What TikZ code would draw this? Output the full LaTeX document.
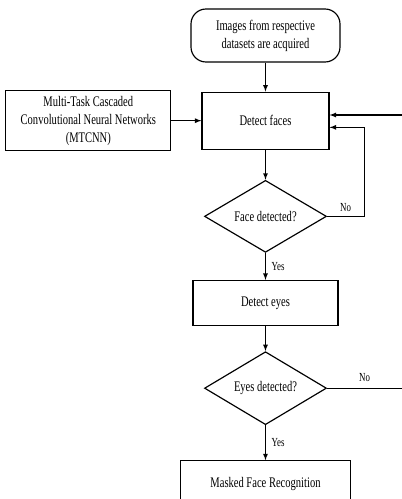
\documentclass[tikz,border=0pt]{standalone}
\usepackage{fontspec}
\setmainfont[FakeStretch=0.72]{Liberation Serif}
\usepackage{tikz}
\usetikzlibrary{shapes,arrows,positioning}

\begin{document}
\begin{tikzpicture}[
    node distance=0.8cm and 0.9cm,
    box/.style={rectangle, draw, line width=1pt, align=center, font=\fontsize{12.5}{15.3}\selectfont},
    start/.style={box, rounded corners=0.45cm},
    decision/.style={diamond, draw, line width=1pt, inner sep=0pt, aspect=1.7, font=\fontsize{12.5}{15.3}\selectfont},
    lbl/.style={font=\fontsize{10.5}{12}\selectfont},
    arrow/.style={->, >=latex, line width=0.9pt}
]
\useasboundingbox (-7.965,1.065) rectangle (4.095,-13.905);

% Start
\node[start, minimum width=4.47cm, minimum height=1.59cm] (acquire) at (0,0) {Images from respective\\datasets are acquired};

% Face detection
\node[box, minimum width=3.81cm, minimum height=1.71cm, below=0.87cm of acquire] (faces) {Detect faces};
\node[box, minimum width=4.95cm, minimum height=1.8cm, left=0.9cm of faces] (mtcnn) {Multi-Task Cascaded\\Convolutional Neural Networks\\(MTCNN)};
\node[decision, minimum width=3.66cm, minimum height=2.16cm, below=0.9cm of faces] (facedec) {Face detected?};

% Eye detection
\node[box, minimum width=4.35cm, minimum height=1.35cm, below=0.81cm of facedec] (eyes) {Detect eyes};
\node[decision, minimum width=3.66cm, minimum height=2.19cm, below=0.75cm of eyes] (eyesdec) {Eyes detected?};

% Recognition
\node[box, minimum width=5.1cm, minimum height=1.38cm, below=1.05cm of eyesdec] (recog) {Masked Face Recognition};

% Side entries
\coordinate (rimx) at (4.095,0);
\coordinate (inA) at ([yshift=0.17cm]faces.east);
\coordinate (inB) at ([yshift=-0.2cm]faces.east);
\coordinate (rimA) at (inA -| rimx);
\coordinate (rimB) at (eyesdec.east -| rimx);

% Arrows
\draw[arrow] (acquire) -- (faces);
\draw[arrow] (mtcnn) -- (faces);
\draw[arrow] (faces) -- (facedec);
\draw[arrow] (facedec) -- node[lbl, right, xshift=0.05cm] {Yes} (eyes);
\draw[arrow] (facedec.east) -- node[lbl, above] {No} ++(1.11,0) |- (inB);
\draw[arrow] (rimA) -- (inA);
\draw[arrow] (eyes) -- (eyesdec);
\draw[arrow] (eyesdec) -- node[lbl, right, xshift=0.05cm] {Yes} (recog);
\draw[line width=0.9pt] (eyesdec.east) -- node[lbl, above, yshift=0.05cm] {No} (rimB);

\end{tikzpicture}
\end{document}
